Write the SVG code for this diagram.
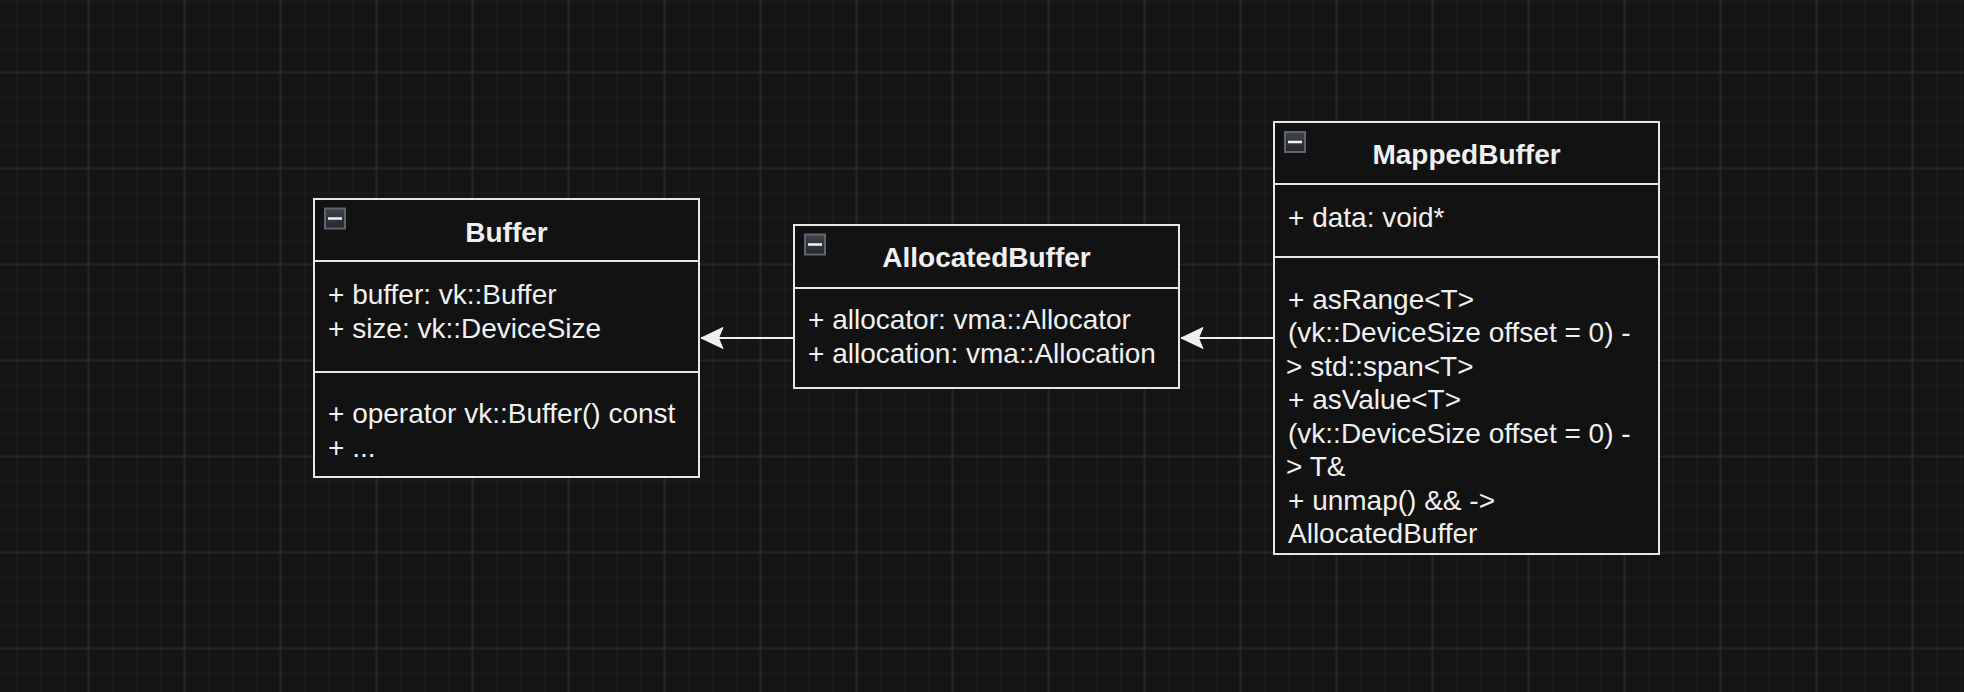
<svg xmlns="http://www.w3.org/2000/svg" width="1964" height="692" viewBox="0 0 1964 692">
<style>
.box{fill:#121212;stroke:#e8e8e8;stroke-width:2}
.div{stroke:#e8e8e8;stroke-width:2}
.title{font-family:"Liberation Sans",Arial,Helvetica,sans-serif;font-size:28px;font-weight:bold;fill:#f0f0f0;text-anchor:middle}
.txt{font-family:"Liberation Sans",Arial,Helvetica,sans-serif;font-size:28px;fill:#f0f0f0}
.icon{fill:url(#ig);stroke:#5d6470;stroke-width:2}
.minus{stroke:#f4f4f4;stroke-width:2.5}
.edge{fill:none;stroke:#f0f0f0;stroke-width:2}
</style>
<defs>
<pattern id="grid" patternUnits="userSpaceOnUse" x="-19.5" y="-35.5" width="96" height="96">
<path d="M36 0V96M60 0V96M84 0V96M0 36H96M0 60H96M0 84H96" stroke="#1c1c1c" stroke-width="1.5"/>
<path d="M12 0V96M0 12H96" stroke="#2b2b2b" stroke-width="1.5"/>
</pattern>
<linearGradient id="ig" x1="0" y1="0" x2="0" y2="1">
<stop offset="0" stop-color="#40444c"/>
<stop offset="1" stop-color="#25272b"/>
</linearGradient>
<marker id="arr" markerUnits="userSpaceOnUse" markerWidth="26" markerHeight="26" viewBox="0 0 26 26" refX="25" refY="13" orient="auto">
<path d="M3 2.5L25 13L3 23.5L7.5 13Z" fill="#f0f0f0" stroke="#f0f0f0" stroke-width="1" stroke-linejoin="miter"/>
</marker>
</defs>
<rect width="1964" height="692" fill="#151515"/>
<rect width="1964" height="692" fill="url(#grid)"/>

<g id="connectors">
<path class="edge" d="M794 338H701" marker-end="url(#arr)"/>
<path class="edge" d="M1274 338H1181" marker-end="url(#arr)"/>
</g>

<g id="Buffer">
<rect class="box" x="314" y="199" width="385" height="278"/>
<line class="div" x1="314" y1="261" x2="699" y2="261"/>
<line class="div" x1="314" y1="372" x2="699" y2="372"/>
<rect class="icon" x="325" y="208.5" width="20" height="20"/>
<line class="minus" x1="328" y1="218.5" x2="342" y2="218.5"/>
<text class="title" x="506.5" y="242">Buffer</text>
<text class="txt" x="328" y="304">+ buffer: vk::Buffer</text>
<text class="txt" x="328" y="337.5">+ size: vk::DeviceSize</text>
<text class="txt" x="328" y="423">+ operator vk::Buffer() const</text>
<text class="txt" x="328" y="456.5">+ ...</text>
</g>

<g id="AllocatedBuffer">
<rect class="box" x="794" y="225" width="385" height="163"/>
<line class="div" x1="794" y1="288" x2="1179" y2="288"/>
<rect class="icon" x="805" y="234.5" width="20" height="20"/>
<line class="minus" x1="808" y1="244.5" x2="822" y2="244.5"/>
<text class="title" x="986.5" y="267">AllocatedBuffer</text>
<text class="txt" x="808" y="328.5">+ allocator: vma::Allocator</text>
<text class="txt" x="808" y="362.5">+ allocation: vma::Allocation</text>
</g>

<g id="MappedBuffer">
<rect class="box" x="1274" y="122" width="385" height="432"/>
<line class="div" x1="1274" y1="184" x2="1659" y2="184"/>
<line class="div" x1="1274" y1="257" x2="1659" y2="257"/>
<rect class="icon" x="1285" y="132" width="20" height="20"/>
<line class="minus" x1="1288" y1="142" x2="1302" y2="142"/>
<text class="title" x="1466.5" y="164">MappedBuffer</text>
<text class="txt" x="1288" y="227">+ data: void*</text>
<text class="txt" x="1288" y="308.5">+ asRange&lt;T&gt;</text>
<text class="txt" x="1288" y="342">(vk::DeviceSize offset = 0) -</text>
<text class="txt" x="1286" y="375.5">&gt; std::span&lt;T&gt;</text>
<text class="txt" x="1288" y="409">+ asValue&lt;T&gt;</text>
<text class="txt" x="1288" y="442.5">(vk::DeviceSize offset = 0) -</text>
<text class="txt" x="1286" y="476">&gt; T&amp;</text>
<text class="txt" x="1288" y="509.5">+ unmap() &amp;&amp; -&gt;</text>
<text class="txt" x="1288" y="543">AllocatedBuffer</text>
</g>
</svg>
